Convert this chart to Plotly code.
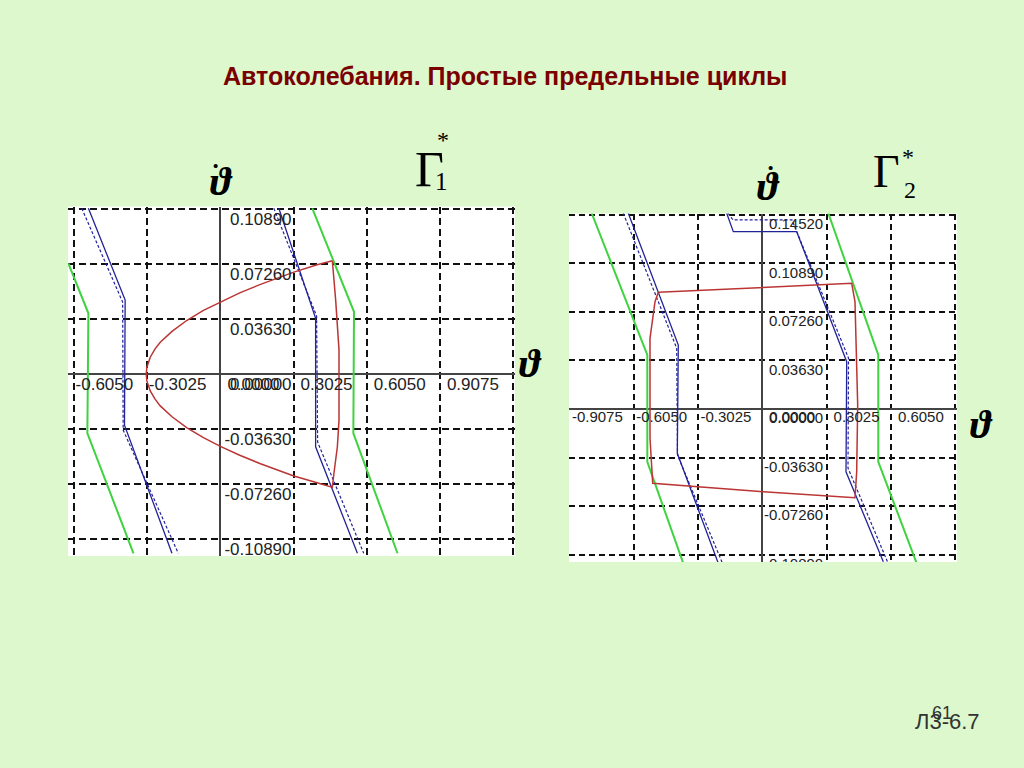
import plotly.graph_objects as go

W, H = 1024, 768
BG = "#ddf8cc"

# ---------------- Left chart (Gamma_1*) ----------------
x_ticks_1 = [-0.6050, -0.3025, 0.0, 0.3025, 0.6050, 0.9075, 1.2100]
y_ticks_1 = [-0.1089, -0.0726, -0.0363, 0.0, 0.0363, 0.0726, 0.1089]
x_label_vals_1 = [-0.6050, -0.3025, 0.0, 0.3025, 0.6050, 0.9075]
x_labels_1 = ["-0.6050", "-0.3025", "0.0000", "0.3025", "0.6050", "0.9075"]
y_label_vals_1 = [0.1089, 0.0726, 0.0363, 0.0, -0.0363, -0.0726, -0.1089]
y_labels_1 = ["0.10890", "0.07260", "0.03630", "0.00000", "-0.03630", "-0.07260", "-0.10890"]

green_a_x1 = [-0.6286, -0.5457, -0.5499, -0.3593]
green_a_y1 = [0.0731, 0.0401, -0.0391, -0.1183]
green_b_x1 = [0.3800, 0.5524, 0.5497, 0.7322]
green_b_y1 = [0.1094, 0.0411, -0.0391, -0.1183]
blue_a_x1 = [-0.5457, -0.3937, -0.3965, -0.2002]
blue_a_y1 = [0.1094, 0.0488, -0.0337, -0.1183]
blue_a_dash_x1 = [-0.5731, -0.4040, -0.4019, -0.1740]
blue_a_dash_y1 = [0.1094, 0.0475, -0.0370, -0.1183]
blue_b_x1 = [0.2416, 0.3937, 0.3937, 0.5665]
blue_b_y1 = [0.1094, 0.0368, -0.0480, -0.1183]
blue_b_dash_x1 = [0.2209, 0.3978, 0.4020, 0.5926]
blue_b_dash_y1 = [0.1094, 0.0383, -0.0449, -0.1183]
red_x1 = [0.4629, 0.400, 0.3037, 0.230, 0.1658, 0.080, 0.0, -0.070, -0.138, -0.200,
          -0.2486, -0.270, -0.290, -0.304, -0.3066,
          -0.304, -0.290, -0.270, -0.2486, -0.200, -0.138, -0.070, 0.0, 0.080,
          0.1658, 0.230, 0.3037, 0.400, 0.4629,
          0.4695, 0.4836, 0.4904, 0.4904, 0.4766, 0.4629]
red_y1 = [0.0748, 0.0722, 0.0673, 0.0632, 0.0592, 0.0536, 0.0477, 0.0420, 0.0355, 0.0282,
          0.0210, 0.0166, 0.0111, 0.0045, 0.0,
          -0.0045, -0.0111, -0.0166, -0.0210, -0.0282, -0.0355, -0.0420, -0.0477, -0.0536,
          -0.0592, -0.0632, -0.0673, -0.0718, -0.0748,
          -0.0655, -0.0480, -0.0304, 0.0158, 0.0488, 0.0748]

# ---------------- Right chart (Gamma_2*) ----------------
x_ticks_2 = [-0.9075, -0.6050, -0.3025, 0.0, 0.3025, 0.6050, 0.9075]
y_ticks_2 = [-0.1089, -0.0726, -0.0363, 0.0, 0.0363, 0.0726, 0.1089, 0.1452]
x_label_vals_2 = [-0.9075, -0.6050, -0.3025, 0.0, 0.3025, 0.6050]
x_labels_2 = ["-0.9075", "-0.6050", "-0.3025", "0.0000", "0.3025", "0.6050"]
y_label_vals_2 = [0.1452, 0.1089, 0.0726, 0.0363, 0.0, -0.0363, -0.0726, -0.1089]
y_labels_2 = ["0.14520", "0.10890", "0.07260", "0.03630", "0.00000", "-0.03630", "-0.07260", "-0.10890"]

green_a_x2 = [-0.8026, -0.5410, -0.5410, -0.3717]
green_a_y2 = [0.1463, 0.0404, -0.0394, -0.1153]
green_b_x2 = [0.3105, 0.5457, 0.5457, 0.7264]
green_b_y2 = [0.1463, 0.0404, -0.0394, -0.1153]
blue_a_x2 = [-0.6304, -0.3952, -0.3999, -0.2070]
blue_a_y2 = [0.1463, 0.0478, -0.0331, -0.1153]
blue_a_dash_x2 = [-0.6539, -0.4027, -0.3989, -0.1872]
blue_a_dash_y2 = [0.1463, 0.0454, -0.0344, -0.1153]
blue_b_x2 = [-0.1675, -0.1364, 0.1618, 0.3971, 0.3938, 0.5693]
blue_b_y2 = [0.1463, 0.1325, 0.1325, 0.0354, -0.0469, -0.1141]
blue_b_dash_x2 = [-0.1613, -0.1378, 0.1397, 0.4055, 0.4032, 0.5890]
blue_b_dash_y2 = [0.1463, 0.1413, 0.1413, 0.0381, -0.0441, -0.1141]
red_x2 = [-0.4893, 0.0047, 0.4206, 0.4361, 0.4488, 0.4441, 0.4361, 0.0047,
          -0.5156, -0.5283, -0.5283, -0.5048, -0.4893]
red_y2 = [0.0872, 0.0907, 0.0939, 0.0802, 0.0030, -0.0469, -0.0663, -0.0618,
          -0.0555, -0.0219, 0.0528, 0.0802, 0.0872]

# ---------------- geometry ----------------
dom_x1 = [68 / W, 515 / W]
dom_y1 = [1 - 556 / H, 1 - 206.5 / H]
rng_x1 = [-0.630, 1.218]
rng_y1 = [-0.1201, 0.1106]
dom_x2 = [569 / W, 957 / W]
dom_y2 = [1 - 562 / H, 1 - 213.5 / H]
rng_x2 = [-0.9094, 0.9160]
rng_y2 = [-0.1143, 0.1461]


def scale(dom, rng, total):
    return (dom[1] - dom[0]) * total / (rng[1] - rng[0])


GREEN = "#3fd33f"
BLUE = "#22229a"
RED = "#bb3535"

fig = go.Figure()


def add_curves(xa, ya, sets):
    for xs, ys, color, width, dash in sets:
        fig.add_trace(go.Scatter(x=xs, y=ys, mode="lines", xaxis=xa, yaxis=ya,
                                 line=dict(color=color, width=width, dash=dash),
                                 hoverinfo="skip"))


add_curves("x", "y", [
    (green_a_x1, green_a_y1, GREEN, 2, "solid"),
    (green_b_x1, green_b_y1, GREEN, 2, "solid"),
    (blue_a_dash_x1, blue_a_dash_y1, BLUE, 1.2, "3px,2px"),
    (blue_b_dash_x1, blue_b_dash_y1, BLUE, 1.2, "3px,2px"),
    (blue_a_x1, blue_a_y1, BLUE, 1.3, "solid"),
    (blue_b_x1, blue_b_y1, BLUE, 1.3, "solid"),
    (red_x1, red_y1, RED, 1.5, "solid"),
])
add_curves("x2", "y2", [
    (green_a_x2, green_a_y2, GREEN, 2, "solid"),
    (green_b_x2, green_b_y2, GREEN, 2, "solid"),
    (blue_a_dash_x2, blue_a_dash_y2, BLUE, 1.2, "3px,2px"),
    (blue_b_dash_x2, blue_b_dash_y2, BLUE, 1.2, "3px,2px"),
    (blue_a_x2, blue_a_y2, BLUE, 1.3, "solid"),
    (blue_b_x2, blue_b_y2, BLUE, 1.3, "solid"),
    (red_x2, red_y2, RED, 1.5, "solid"),
])


def add_tick_labels(xa, ya, dom_x, rng_x, dom_y, rng_y, xv, xt, yv, yt,
                    size, neg_dx, pos_dx, ydown_x, ydown_y, y_end_dx):
    sx = scale(dom_x, rng_x, W)
    sy = scale(dom_y, rng_y, H)
    font = dict(family="Arial, Liberation Sans, sans-serif", size=size, color="#222")
    fig.add_trace(go.Scatter(
        x=[v + (neg_dx if v < 0 else pos_dx) / sx for v in xv],
        y=[-ydown_x / sy for _ in xv],
        text=xt, mode="text", textposition="middle right", textfont=font,
        xaxis=xa, yaxis=ya, hoverinfo="skip", cliponaxis=True))
    fig.add_trace(go.Scatter(
        x=[0.3025 - y_end_dx / sx for _ in yv],
        y=[v - ydown_y / sy for v in yv],
        text=yt, mode="text", textposition="middle left", textfont=font,
        xaxis=xa, yaxis=ya, hoverinfo="skip", cliponaxis=True))


add_tick_labels("x", "y", dom_x1, rng_x1, dom_y1, rng_y1, x_label_vals_1, x_labels_1,
                y_label_vals_1, y_labels_1, 17, 1.5, 7, 11.5, 12, 2)
add_tick_labels("x2", "y2", dom_x2, rng_x2, dom_y2, rng_y2, x_label_vals_2, x_labels_2,
                y_label_vals_2, y_labels_2, 15, 2.5, 7, 9.5, 10.5, 3.4)

grid = dict(showgrid=True, gridcolor="#111", gridwidth=2, griddash="7px,4px",
            zeroline=True, zerolinecolor="#444", zerolinewidth=2,
            showticklabels=False, ticks="", showline=False, fixedrange=True)

fig.update_layout(
    width=W, height=H, margin=dict(l=0, r=0, t=0, b=0),
    paper_bgcolor=BG, plot_bgcolor="white", showlegend=False,
    xaxis=dict(domain=dom_x1, range=rng_x1, tickvals=x_ticks_1, anchor="y", **grid),
    yaxis=dict(domain=dom_y1, range=rng_y1, tickvals=y_ticks_1, anchor="x", **grid),
    xaxis2=dict(domain=dom_x2, range=rng_x2, tickvals=x_ticks_2, anchor="y2",
                **{**grid, "griddash": "6px,4px"}),
    yaxis2=dict(domain=dom_y2, range=rng_y2, tickvals=y_ticks_2, anchor="x2",
                **{**grid, "griddash": "6px,4px"}),
)

SERIF = "Liberation Serif, DejaVu Serif, serif"


def note(text, px, py, size, family=SERIF, color="black"):
    fig.add_annotation(x=px / W, y=1 - py / H, xref="paper", yref="paper",
                       text=text, showarrow=False, xanchor="center", yanchor="middle",
                       font=dict(family=family, size=size, color=color))


# Title
note("<b>Автоколебания. Простые предельные циклы</b>", 505, 76, 25,
     family="Arial, Liberation Sans, sans-serif", color="#7a0000")

# Axis symbols (theta-dot)
note("<b><i>ϑ</i></b>", 221, 181, 40)
note("<b>•</b>", 215.5, 166, 15)
note("<b><i>ϑ</i></b>", 768, 186, 40)
note("<b>•</b>", 770.5, 167.5, 15)
# Axis symbols (theta)
note("<b><i>ϑ</i></b>", 530, 364, 40)
note("<b><i>ϑ</i></b>", 981, 424, 40)

# Gamma labels
note("Γ", 429, 169, 50)
note("*", 442.5, 140, 24)
note("1", 441, 181.5, 25)
note("Γ", 886, 171, 46)
note("*", 908, 157, 24)
note("2", 910, 190, 24)

# Footer
note("Л3-6.7", 947, 721.5, 22, family="Arial, Liberation Sans, sans-serif", color="#333")
note("61", 942, 713, 18, family="Arial, Liberation Sans, sans-serif", color="#333")

fig.write_html("out.html", config={"displayModeBar": False},
               post_script="document.body.style.margin='0';document.body.style.overflow='hidden';")
